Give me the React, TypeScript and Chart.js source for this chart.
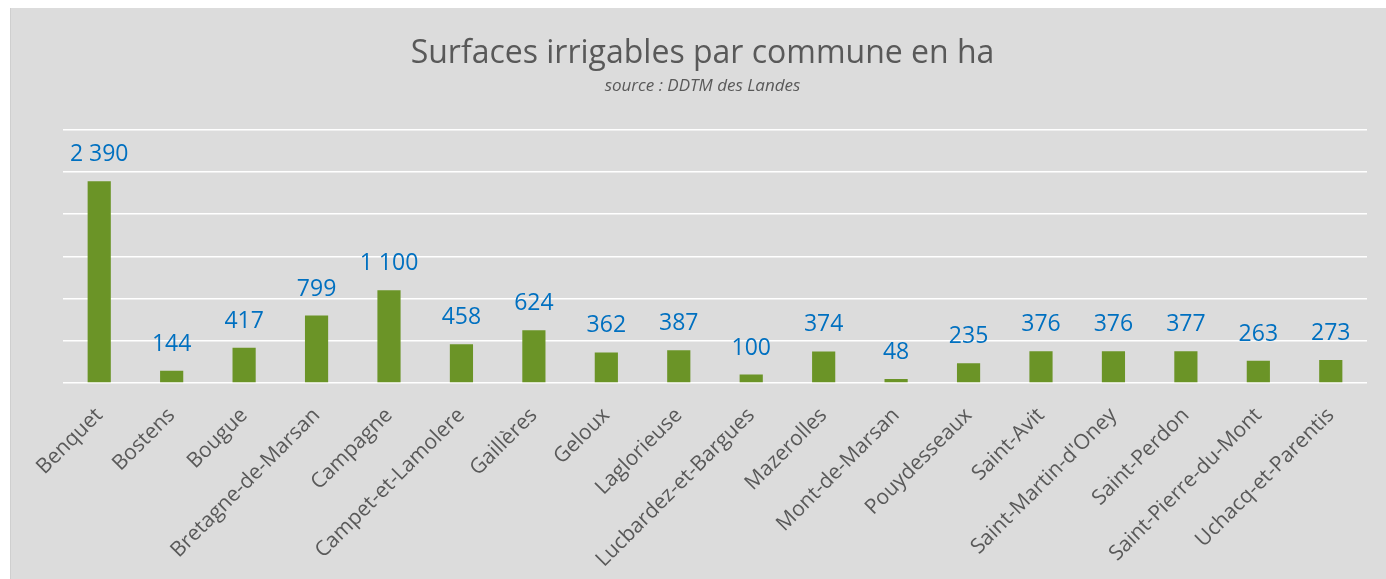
import React, { useEffect, useRef } from "react";
import { Chart, registerables } from "chart.js";

Chart.register(...registerables);

const communes: string[] = [
  "Benquet",
  "Bostens",
  "Bougue",
  "Bretagne-de-Marsan",
  "Campagne",
  "Campet-et-Lamolere",
  "Gaillères",
  "Geloux",
  "Laglorieuse",
  "Lucbardez-et-Bargues",
  "Mazerolles",
  "Mont-de-Marsan",
  "Pouydesseaux",
  "Saint-Avit",
  "Saint-Martin-d'Oney",
  "Saint-Perdon",
  "Saint-Pierre-du-Mont",
  "Uchacq-et-Parentis",
];

const surfaces: number[] = [
  2390, 144, 417, 799, 1100, 458, 624, 362, 387, 100, 374, 48, 235, 376, 376,
  377, 263, 273,
];

const yTicks: number[] = [0, 500, 1000, 1500, 2000, 2500, 3000];

const titleText = "Surfaces irrigables par commune en ha";
const subtitleText = "source : DDTM des Landes";

const formatFr = (v: number): string =>
  String(v).replace(/\B(?=(\d{3})+(?!\d))/g, " ");

const bgPlugin = {
  id: "bgFill",
  beforeDraw(chart: any) {
    const { ctx, width, height } = chart;
    ctx.save();
    ctx.fillStyle = "#dcdcdc";
    ctx.fillRect(0, 0, width, height);
    ctx.restore();
  },
};

const labelPlugin = {
  id: "barValueLabels",
  afterDatasetsDraw(chart: any) {
    const { ctx } = chart;
    const meta = chart.getDatasetMeta(0);
    const data = chart.data.datasets[0].data as number[];
    ctx.save();
    ctx.fillStyle = "#0070C0";
    ctx.font = "23px 'Open Sans'";
    ctx.textAlign = "center";
    ctx.textBaseline = "alphabetic";
    meta.data.forEach((bar: any, i: number) => {
      ctx.fillText(formatFr(data[i]), bar.x, bar.y - 20);
    });
    ctx.restore();
  },
};

export default function App() {
  const canvasRef = useRef<HTMLCanvasElement | null>(null);

  useEffect(() => {
    if (!canvasRef.current) return;
    const chart = new Chart(canvasRef.current, {
      type: "bar",
      data: {
        labels: communes,
        datasets: [
          {
            data: surfaces,
            backgroundColor: "#6B9427",
            borderWidth: 0,
            categoryPercentage: 1,
            barPercentage: 0.32,
          },
        ],
      },
      options: {
        animation: false,
        responsive: false,
        maintainAspectRatio: false,
        layout: { padding: { left: 27, right: 19, top: 0, bottom: 0 } },
        plugins: {
          legend: { display: false },
          tooltip: { enabled: false },
          title: {
            display: true,
            text: titleText,
            color: "#595959",
            font: { family: "'Open Sans'", size: 32, weight: "normal" },
            padding: { top: 27, bottom: 3 },
          },
          subtitle: {
            display: true,
            text: subtitleText,
            color: "#595959",
            font: { family: "'Open Sans'", size: 17, style: "italic" },
            padding: { top: 0, bottom: 33 },
          },
        },
        scales: {
          x: {
            grid: { display: false },
            border: { display: false },
            ticks: {
              autoSkip: false,
              maxRotation: 45,
              minRotation: 45,
              color: "#595959",
              font: { family: "'Open Sans'", size: 21 },
              padding: 12,
            },
            afterFit: (s: any) => {
              s.height = 196;
            },
          },
          y: {
            min: 0,
            max: 3000,
            afterBuildTicks: (s: any) => {
              s.ticks = yTicks.map((v) => ({ value: v }));
            },
            ticks: { display: false },
            border: { display: false },
            grid: { color: "#ffffff", lineWidth: 1.6, drawTicks: false },
            afterFit: (s: any) => {
              s.width = 25;
            },
          },
        },
      },
      plugins: [bgPlugin, labelPlugin],
    });
    return () => chart.destroy();
  }, []);

  return (
    <div
      style={{
        position: "absolute",
        left: 10,
        top: 8,
        width: 1376,
        height: 571,
        borderLeft: "1px solid #cfcfcf",
        boxSizing: "border-box",
      }}
    >
      <canvas ref={canvasRef} width={1375} height={571} />
    </div>
  );
}
